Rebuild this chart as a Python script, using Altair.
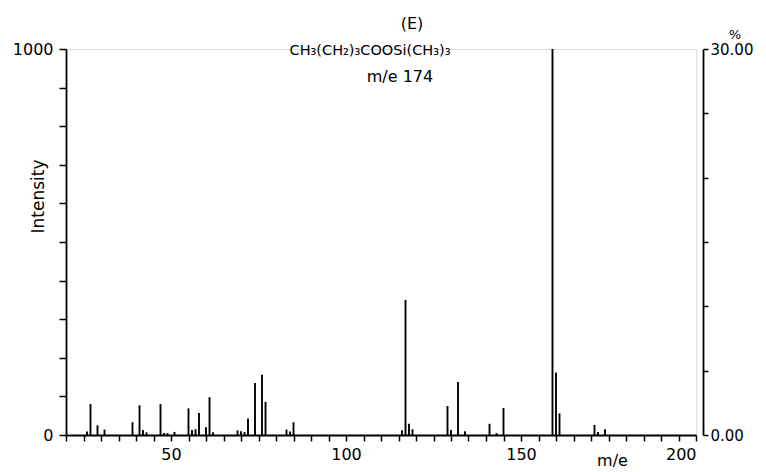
import altair as alt
import pandas as pd

# m/e positions and intensities (0-1000 scale)
mz = [26, 27, 29, 31, 39, 41, 42, 43, 47, 48, 49, 51,
      55, 56, 57, 58, 60, 61, 62, 69, 70, 71, 72, 74, 76, 77,
      83, 84, 85, 116, 117, 118, 119, 129, 130, 132, 134,
      141, 143, 145, 159, 160, 161, 171, 172, 174]
intensity = [9, 80, 25, 14, 33, 77, 13, 7, 80, 5, 5, 8,
             69, 13, 15, 57, 20, 98, 7, 12, 10, 8, 43, 135, 156, 86,
             14, 9, 33, 12, 350, 29, 15, 75, 13, 137, 10,
             29, 5, 70, 1000, 162, 56, 26, 8, 15]

x_ticks = list(range(20, 201, 5))
y_ticks = list(range(0, 1001, 100))
pct_ticks = [0, 5, 10, 15, 20, 25, 30]
pct_range = [0, 30]

title_lines = ["(E)", "CH₃(CH₂)₃COOSi(CH₃)₃", "m/e  174"]

FONT = "DejaVu Sans"

common_axis = dict(grid=False, domainColor="black", tickColor="black",
                   domainWidth=1.8, tickWidth=1.5, labelColor="black",
                   titleColor="black", labelFont=FONT, titleFont=FONT,
                   domainOpacity=1, tickOpacity=1)

df = pd.DataFrame({"mz": mz, "intensity": intensity})

peaks = alt.Chart(df).mark_rule(color="black", strokeWidth=1.9).encode(
    x=alt.X("mz:Q",
            scale=alt.Scale(domain=[20, 200], nice=False, zero=False),
            axis=alt.Axis(values=x_ticks, format="d",
                          labelExpr="datum.value % 50 == 0 ? datum.label : ''",
                          title="m/e", titleX=546, titleY=25,
                          titleAlign="center", titleBaseline="middle",
                          titleFontWeight="normal", titleFontSize=16,
                          tickSize=6, labelPadding=5, labelFontSize=16,
                          **common_axis)),
    y=alt.Y("intensity:Q",
            scale=alt.Scale(domain=[0, 1000], nice=False),
            axis=alt.Axis(values=y_ticks, format="d",
                          labelExpr="(datum.value == 0 || datum.value == 1000) ? datum.label : ''",
                          title="Intensity", titleX=-28, titleY=147,
                          titleAngle=-90, titleAlign="center",
                          titleBaseline="middle",
                          titleFontWeight="normal", titleFontSize=17,
                          tickSize=7, labelPadding=6, labelFontSize=16,
                          **common_axis)),
    y2=alt.datum(0),
)

pct_df = pd.DataFrame({"pct": pct_range})
right = alt.Chart(pct_df).mark_point(opacity=0).encode(
    y=alt.Y("pct:Q",
            scale=alt.Scale(domain=pct_range, nice=False),
            axis=alt.Axis(orient="right", values=pct_ticks, format=".2f",
                          labelExpr="(datum.value == 0 || datum.value == 30) ? datum.label : ''",
                          title=None, offset=7, tickSize=5, labelPadding=2,
                          labelFontSize=15, **common_axis)),
)

def text_layer(txt, xpx, ypx, size):
    return alt.Chart(pd.DataFrame({"t": [txt]})).mark_text(
        font=FONT, fontSize=size, color="black", align="center", baseline="middle"
    ).encode(text="t:N", x=alt.value(xpx), y=alt.value(ypx))

t1 = text_layer(title_lines[0], 346, -25, 16)
t2 = text_layer(title_lines[1], 304, 2, 14.5)
t3 = text_layer(title_lines[2], 334, 28, 16)
t4 = text_layer("%", 669, -14, 13)

chart = alt.layer(peaks, right, t1, t2, t3, t4).resolve_scale(
    y="independent"
).properties(
    width=630, height=386,
    autosize=alt.AutoSizeParams(type="none"),
    padding={"left": 58, "top": 41, "right": 62, "bottom": 36},
).configure_view(stroke=None).configure(background="white")

chart.save("out.html", embed_options={"renderer": "svg", "actions": False})
